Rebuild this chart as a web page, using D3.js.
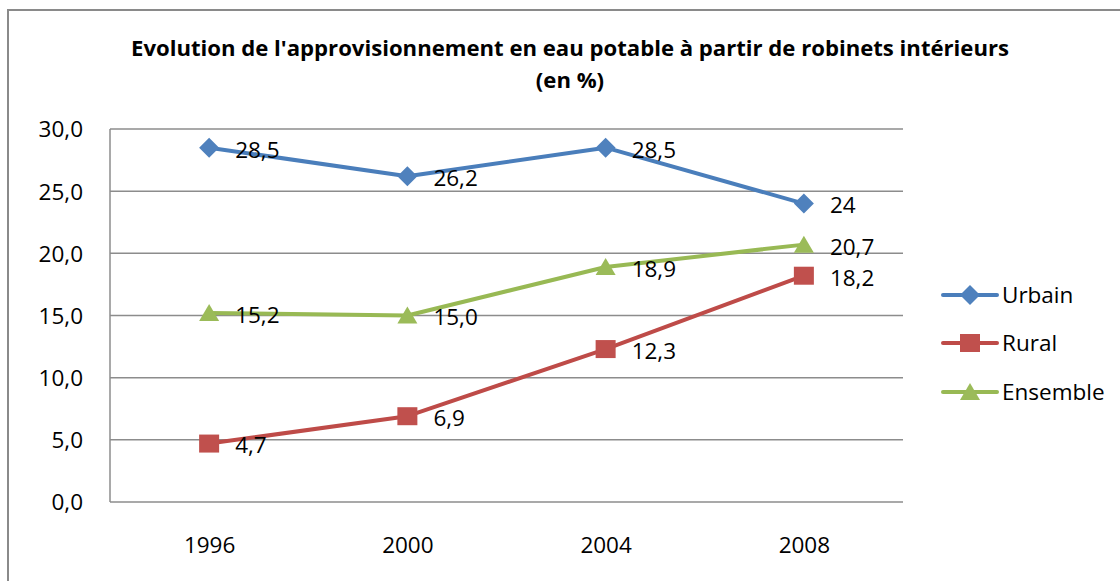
<!DOCTYPE html>
<html><head><meta charset="utf-8">
<script src="https://cdn.jsdelivr.net/npm/d3@7"></script>
<style>html,body{margin:0;padding:0;background:#fff;overflow:hidden}</style>
</head><body>
<svg id="c" width="1120" height="581"></svg>
<script>
const years = ["1996","2000","2004","2008"];
const urbain = [28.5, 26.2, 28.5, 24.0];
const rural = [4.7, 6.9, 12.3, 18.2];
const ensemble = [15.2, 15.0, 18.9, 20.7];
const urbainLabels = ["28,5","26,2","28,5","24"];
const ruralLabels = ["4,7","6,9","12,3","18,2"];
const ensembleLabels = ["15,2","15,0","18,9","20,7"];
const yTicks = [0,5,10,15,20,25,30];
const titleLines = ["Evolution de l'approvisionnement en eau potable à partir de robinets intérieurs","(en %)"];

const series = [
  {name:"Urbain", values:urbain, labels:urbainLabels, line:"#4A7EBB", fill:"#4F81BD", shape:"diamond"},
  {name:"Rural", values:rural, labels:ruralLabels, line:"#BE4B48", fill:"#C0504D", shape:"square"},
  {name:"Ensemble", values:ensemble, labels:ensembleLabels, line:"#98B954", fill:"#9BBB59", shape:"triangle"}
];

const FONT = "'Open Sans', 'Noto Sans', sans-serif";
const svg = d3.select("#c");
svg.append("rect").attr("x",0).attr("y",0).attr("width",1120).attr("height",581).attr("fill","#fff");
// outer frame
svg.append("path").attr("d","M8,600 V10 H1130").attr("fill","none").attr("stroke","#8a8a8a").attr("stroke-width",2);

const L=110, R=903, T=129, B=502;
const x = d3.scalePoint().domain(years).range([L,R]).padding(0.5);
const y = d3.scaleLinear().domain([0,30]).range([B,T]);

// title
const title = svg.append("text").attr("font-family",FONT).attr("font-weight","bold").attr("fill","#000")
  .attr("text-anchor","middle").attr("font-size",21);
const t1 = title.append("tspan").attr("x",570).attr("y",56).text(titleLines[0]);
const t2 = title.append("tspan").attr("x",570).attr("y",88).text(titleLines[1]);
const w1 = t1.node().getComputedTextLength();
const w2 = t2.node().getComputedTextLength();
const ratio = 878/w1;
t1.attr("textLength",w1*ratio).attr("lengthAdjust","spacingAndGlyphs");
t2.attr("textLength",w2*ratio).attr("lengthAdjust","spacingAndGlyphs");

// gridlines
svg.append("g").selectAll("line").data(yTicks).join("line")
  .attr("x1",L).attr("x2",R).attr("y1",d=>y(d)).attr("y2",d=>y(d))
  .attr("stroke","#8c8c8c").attr("stroke-width",1.5);
svg.append("line").attr("x1",L).attr("x2",L).attr("y1",T).attr("y2",B).attr("stroke","#8c8c8c").attr("stroke-width",1.5);

// y axis labels
const yAxis = d3.axisLeft(y).tickValues(yTicks).tickSize(0).tickPadding(0)
  .tickFormat(d=>d3.format(".1f")(d).replace(".",","));
const ga = svg.append("g").attr("transform",`translate(${L-27},0)`).call(yAxis);
ga.select(".domain").remove();
ga.selectAll("text").attr("font-family",FONT).attr("font-size",22.5).attr("fill","#000").attr("dy","0.35em");

// x axis labels
const xAxis = d3.axisBottom(x).tickSize(0).tickPadding(0);
const gx = svg.append("g").attr("transform",`translate(0,${B+43})`).call(xAxis);
gx.select(".domain").remove();
gx.selectAll("text").attr("font-family",FONT).attr("font-size",22.5).attr("fill","#000").attr("dy","0.35em");

function marker(g, shape, fill){
  if(shape==="diamond") g.append("path").attr("d","M0,-10 L10,0 L0,10 L-10,0 Z").attr("fill",fill);
  else if(shape==="square") g.append("rect").attr("x",-10).attr("y",-9).attr("width",20).attr("height",18).attr("fill",fill);
  else g.append("path").attr("d","M0,-9 L10,8 L-10,8 Z").attr("fill",fill);
}

const line = d3.line().x((d,i)=>x(years[i])).y(d=>y(d));
series.forEach(s=>{
  svg.append("path").attr("d",line(s.values)).attr("fill","none").attr("stroke",s.line).attr("stroke-width",4).attr("stroke-linejoin","round");
  s.values.forEach((v,i)=>{
    const g = svg.append("g").attr("transform",`translate(${x(years[i])},${y(v)})`);
    marker(g,s.shape,s.fill);
  });
});
series.forEach(s=>{
  s.values.forEach((v,i)=>{
    svg.append("text").attr("x",x(years[i])+26).attr("y",y(v)+2).attr("dy","0.35em")
      .attr("font-family",FONT).attr("font-size",22.5).attr("fill","#000").text(s.labels[i]);
  });
});

// legend
const ly = [295,343,392];
series.forEach((s,i)=>{
  const g = svg.append("g").attr("transform",`translate(970,${ly[i]})`);
  g.append("line").attr("x1",-27).attr("x2",27).attr("y1",0).attr("y2",0).attr("stroke",s.line).attr("stroke-width",4).attr("stroke-linecap","round");
  marker(g,s.shape,s.fill);
  g.append("text").attr("x",32).attr("y",0).attr("dy","0.35em").attr("font-family",FONT).attr("font-size",22.5).attr("fill","#000").text(s.name);
});
</script>
</body></html>
